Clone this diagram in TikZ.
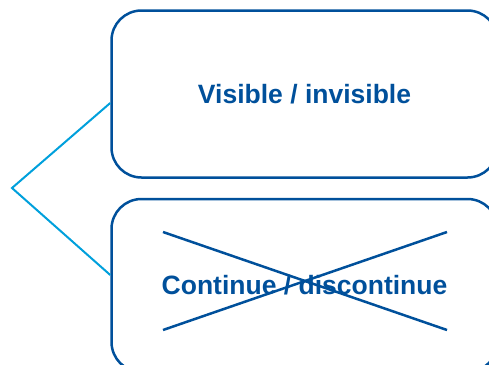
\documentclass[tikz,border=0pt]{standalone}
\usepackage{fontspec}
\setmainfont{Liberation Sans}
\usepackage{tikz}
\definecolor{darkblue}{RGB}{0,80,155}
\definecolor{lightblue}{RGB}{0,160,220}

\begin{document}
\begin{tikzpicture}[x=1pt,y=-1pt,
		box/.style={draw=darkblue, line width=2.5pt, rounded corners=30pt, minimum width=386pt, minimum height=167pt, text=darkblue, font=\fontsize{26.5}{30}\selectfont\bfseries},
		branch/.style={draw=lightblue, line width=2pt}]
		\useasboundingbox (0,0) rectangle (489,364);
		\clip (0,0) rectangle (489,364);
		\node[box] (visible) at (304.5,94) {Visible / invisible};
		\node[box, minimum height=173pt] (continue) at (304.5,285.5) {Continue / discontinue};
		\coordinate (fork) at (12,188);
		\draw [branch] ([yshift=-9pt]visible.west) -- (fork) -- ([yshift=10.5pt]continue.west);
		% cross over the second box
		\draw [darkblue, line width=2.5pt] (163,232) -- (447,330);
		\draw [darkblue, line width=2.5pt] (163,330) -- (447,232);
	\end{tikzpicture}
\end{document}
